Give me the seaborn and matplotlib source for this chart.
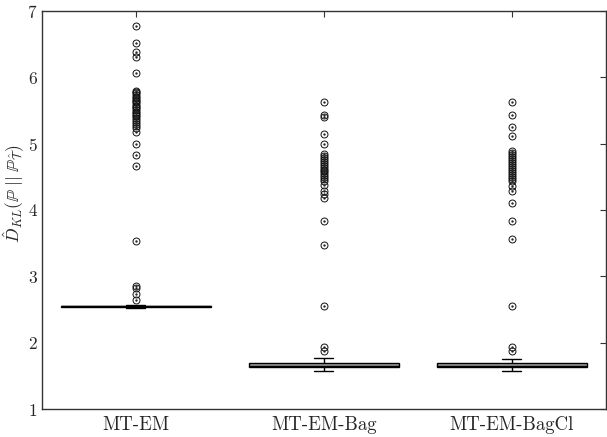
import numpy as np
import pandas as pd
import matplotlib
matplotlib.use("Agg")
import matplotlib.pyplot as plt
import seaborn as sns

# methods on the x axis
methods = ["MT-EM", "MT-EM-Bag", "MT-EM-BagCl"]

# bulk of each distribution (value, count) - the boxes are very narrow
em_core_vals = [2.53, 2.54, 2.55, 2.56, 2.57]
em_core_counts = [20, 70, 90, 70, 20]
bag_core_vals = [1.58, 1.60, 1.63, 1.65, 1.67, 1.69, 1.72, 1.77]
bag_core_counts = [10, 30, 60, 80, 60, 40, 20, 10]
bagcl_core_vals = [1.58, 1.60, 1.63, 1.65, 1.67, 1.69, 1.72, 1.76]
bagcl_core_counts = [10, 30, 60, 80, 60, 40, 20, 10]

# outlying runs
em_outliers = [6.77, 6.52, 6.38, 6.31, 6.07, 5.80, 5.78, 5.76, 5.74, 5.71,
               5.69, 5.66, 5.64, 5.62, 5.59, 5.57, 5.55, 5.53, 5.50, 5.48,
               5.46, 5.43, 5.41, 5.38, 5.36, 5.33, 5.30, 5.27, 5.24, 5.17,
               4.99, 4.83, 4.67, 3.53, 2.85, 2.83, 2.73, 2.65]
bag_outliers = [5.62, 5.43, 5.40, 5.15, 5.00, 4.84, 4.82, 4.79, 4.76, 4.73,
                4.70, 4.67, 4.64, 4.61, 4.58, 4.55, 4.52, 4.49, 4.46, 4.43,
                4.37, 4.29, 4.24, 4.18, 3.83, 3.47, 2.55, 1.94, 1.88]
bagcl_outliers = [5.62, 5.43, 5.25, 5.12, 4.89, 4.86, 4.83, 4.80, 4.77, 4.74,
                  4.71, 4.68, 4.65, 4.62, 4.59, 4.56, 4.53, 4.50, 4.47, 4.44,
                  4.36, 4.29, 4.11, 3.83, 3.57, 2.56, 1.94, 1.88]

groups = {
    "MT-EM": (em_core_vals, em_core_counts, em_outliers),
    "MT-EM-Bag": (bag_core_vals, bag_core_counts, bag_outliers),
    "MT-EM-BagCl": (bagcl_core_vals, bagcl_core_counts, bagcl_outliers),
}

rows = []
for m in methods:
    vals, counts, outs = groups[m]
    values = list(np.repeat(vals, counts)) + list(outs)
    rows.append(pd.DataFrame({"method": m, "value": values}))
df = pd.concat(rows, ignore_index=True)

sns.set_style("white")
plt.rcParams["font.family"] = ["cmr10", "DejaVu Serif"]
plt.rcParams["mathtext.fontset"] = "cm"
plt.rcParams["axes.formatter.use_mathtext"] = True

fig = plt.figure(figsize=(6.07, 4.37), dpi=100)
ax = fig.add_axes([0.069, 0.064, 0.929, 0.911])

sns.boxplot(data=df, x="method", y="value", order=methods, ax=ax,
            width=0.8, color="#9c9c9c", saturation=1, linecolor="black",
            linewidth=1.0, whis=1.5, fliersize=5,
            flierprops=dict(marker="o", markerfacecolor="none",
                            markeredgecolor="#111111", markeredgewidth=0.7))

# narrow the whisker caps and put a dot in each outlier circle
for ln in list(ax.lines):
    x = np.asarray(ln.get_xdata(), dtype=float)
    y = np.asarray(ln.get_ydata(), dtype=float)
    if ln.get_marker() == "o":
        ax.plot(x, y, ls="none", marker=".", ms=1.4, color="#222222")
    elif len(x) == 2 and y[0] == y[1] and 0 < abs(x[1] - x[0]) < 0.7:
        c = x.mean()
        ln.set_xdata([c - 0.05, c + 0.05])

ax.set_xlim(-0.5, 2.5)
ax.set_ylim(1, 7)
ax.set_yticks([1, 2, 3, 4, 5, 6, 7])
ax.set_xlabel("")
ax.set_ylabel(r"$\hat{D}_{KL}(\mathbb{P}\;||\;\mathbb{P}_{\hat{\mathcal{T}}})$",
              fontsize=12.5)
ax.yaxis.set_label_coords(-0.027, 0.54)
ax.tick_params(direction="in", length=4, width=0.8, color="#333333",
               top=True, right=True, pad=4)
ax.tick_params(axis="y", labelsize=12.5, pad=3)
ax.tick_params(axis="x", labelsize=13.5, pad=5)
for s in ax.spines.values():
    s.set_color("#333333")
    s.set_linewidth(1.0)

fig.savefig("out.png", dpi=100)
